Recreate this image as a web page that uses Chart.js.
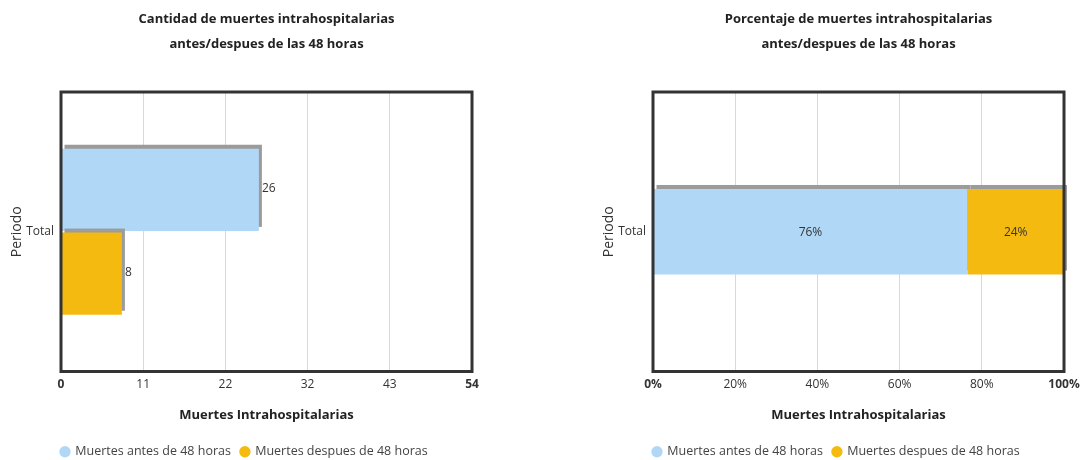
<!DOCTYPE html>
<html>
<head>
<meta charset="utf-8">
<script src="https://cdn.jsdelivr.net/npm/chart.js@4"></script>
<style>
    html, body { margin: 0; padding: 0; background: #fff; overflow: hidden; }
    .panel { position: absolute; top: 0; height: 460px; }
    #count-panel { left: 0; width: 541px; }
    #percent-panel { left: 541px; width: 560px; }
</style>
</head>
<body>
<div class="panel" id="count-panel"><canvas id="count-chart"></canvas></div>
<div class="panel" id="percent-panel"><canvas id="percent-chart"></canvas></div>
<script>
const categories = ['Total'];
const seriesNames = ['Muertes antes de 48 horas', 'Muertes despues de 48 horas'];
const seriesColors = ['#B0D7F6', '#F5BA10'];
const countValues = [26, 8];
const percentValues = [76.5, 23.5];
const percentLabels = ['76%', '24%'];
const countTicks = [0, 10.8, 21.6, 32.4, 43.2, 54];
const countTickLabels = ['0', '11', '22', '32', '43', '54'];
const percentTicks = [0, 20, 40, 60, 80, 100];
const percentTickLabels = ['0%', '20%', '40%', '60%', '80%', '100%'];

Chart.defaults.font.family = "'Open Sans', sans-serif";
Chart.defaults.color = '#333';

const SHADOW_DX = 3;
const SHADOW_DY = -4;

function barRect(bar) {
    const x0 = Math.min(bar.base, bar.x);
    const x1 = Math.max(bar.base, bar.x);
    return { x0, x1, y0: bar.y - bar.height / 2, y1: bar.y + bar.height / 2 };
}

function shadowRect(bar) {
    const r = barRect(bar);
    return { x0: r.x0 + SHADOW_DX, x1: r.x1 + SHADOW_DX, y0: r.y0 + SHADOW_DY, y1: r.y1 + SHADOW_DY };
}

// grey offset "shadow" behind each bar, plot frame, value labels,
// and title/legend lined up with the plot area
const decorPlugin = {
    id: 'decor',
    afterLayout(chart) {
        const area = chart.chartArea;
        chart.titleBlock.left = area.left;
        chart.titleBlock.right = area.right;
        const legend = chart.legend;
        const pad = legend.options.labels.padding;
        legend.left = area.left - pad;
        legend.top += 8;
        legend.bottom += 8;
    },
    beforeDatasetsDraw(chart) {
        const ctx = chart.ctx;
        ctx.save();
        ctx.fillStyle = '#9B9B9B';
        chart.data.datasets.forEach((ds, i) => {
            chart.getDatasetMeta(i).data.forEach(bar => {
                const s = shadowRect(bar);
                ctx.fillRect(s.x0, s.y0, s.x1 - s.x0, s.y1 - s.y0);
            });
        });
        ctx.restore();
    },
    afterDatasetsDraw(chart, args, opts) {
        const ctx = chart.ctx;
        const area = chart.chartArea;
        ctx.save();

        // later series' shadow sits on top of earlier series' bars
        ctx.fillStyle = '#9B9B9B';
        const n = chart.data.datasets.length;
        for (let i = 1; i < n; i++) {
            chart.getDatasetMeta(i).data.forEach(bar => {
                const s = shadowRect(bar);
                for (let j = 0; j < i; j++) {
                    chart.getDatasetMeta(j).data.forEach(other => {
                        const b = barRect(other);
                        const x0 = Math.max(s.x0, b.x0), x1 = Math.min(s.x1, b.x1);
                        const y0 = Math.max(s.y0, b.y0), y1 = Math.min(s.y1, b.y1);
                        if (x1 > x0 && y1 > y0) ctx.fillRect(x0, y0, x1 - x0, y1 - y0);
                    });
                }
            });
        }

        ctx.strokeStyle = '#333';
        ctx.lineWidth = 3;
        ctx.strokeRect(area.left, area.top, area.right - area.left, area.bottom - area.top);

        ctx.font = "12px 'Open Sans', sans-serif";
        ctx.fillStyle = '#333';
        ctx.textBaseline = 'middle';
        chart.data.datasets.forEach((ds, i) => {
            const bar = chart.getDatasetMeta(i).data[0];
            const text = opts.labels[i];
            if (opts.inside) {
                ctx.textAlign = 'center';
                ctx.fillText(text, (bar.x + bar.base) / 2, bar.y + 1);
            } else {
                ctx.textAlign = 'left';
                ctx.fillText(text, bar.x + 3, bar.y - 1);
            }
        });
        ctx.restore();
    }
};

function buildChart(canvasId, titleLines, values, ticks, tickLabels, valueLabels, stacked, pad) {
    const last = ticks.length - 1;
    return new Chart(document.getElementById(canvasId), {
        type: 'bar',
        data: {
            labels: categories,
            datasets: seriesNames.map((name, i) => ({
                label: name,
                data: [values[i]],
                backgroundColor: seriesColors[i],
                borderWidth: 0,
                categoryPercentage: 0.6,
                barPercentage: stacked ? 0.51 : 0.98
            }))
        },
        options: {
            indexAxis: 'y',
            responsive: true,
            maintainAspectRatio: false,
            animation: false,
            layout: { padding: pad },
            scales: {
                x: {
                    stacked: stacked,
                    min: 0,
                    max: ticks[last],
                    afterBuildTicks: s => { s.ticks = ticks.map(v => ({ value: v })); },
                    afterFit: s => { s.height = 56; },
                    grid: { color: '#D9D9D9', drawTicks: false },
                    border: { display: false },
                    ticks: {
                        padding: 6,
                        maxRotation: 0,
                        color: '#333',
                        callback: (v, i) => tickLabels[i],
                        font: c => ({ size: 12, weight: (c.index === 0 || c.index === last) ? 'bold' : 'normal' })
                    },
                    title: {
                        display: true,
                        text: 'Muertes Intrahospitalarias',
                        color: '#222',
                        font: { size: 13, weight: 'bold' },
                        padding: { top: 4, bottom: 4 }
                    }
                },
                y: {
                    stacked: stacked,
                    afterFit: s => { s.width = 61; },
                    grid: { display: false, drawTicks: false },
                    border: { display: false },
                    ticks: { padding: 7, color: '#333', font: { size: 12 } },
                    title: {
                        display: true,
                        text: 'Periodo',
                        color: '#333',
                        font: { size: 14 },
                        padding: { top: 9, bottom: 0 }
                    }
                }
            },
            plugins: {
                title: {
                    display: true,
                    text: titleLines,
                    color: '#222',
                    font: { size: 13, weight: 'bold', lineHeight: 25 / 13 },
                    padding: { top: 7, bottom: 35 }
                },
                legend: {
                    position: 'bottom',
                    align: 'start',
                    labels: {
                        usePointStyle: true,
                        pointStyle: 'circle',
                        boxWidth: 8,
                        boxHeight: 8,
                        padding: 10,
                        color: '#444',
                        font: { size: 12.5 }
                    }
                },
                tooltip: { enabled: false },
                decor: { labels: valueLabels, inside: stacked }
            }
        },
        plugins: [decorPlugin]
    });
}

buildChart('count-chart',
    ['Cantidad de muertes intrahospitalarias', 'antes/despues de las 48 horas'],
    countValues, countTicks, countTickLabels, countValues.map(String), false,
    { left: 0, right: 69, top: 0, bottom: 0 });

buildChart('percent-chart',
    ['Porcentaje de muertes intrahospitalarias', 'antes/despues de las 48 horas'],
    percentValues, percentTicks, percentTickLabels, percentLabels, true,
    { left: 51, right: 37, top: 0, bottom: 0 });
</script>
</body>
</html>
